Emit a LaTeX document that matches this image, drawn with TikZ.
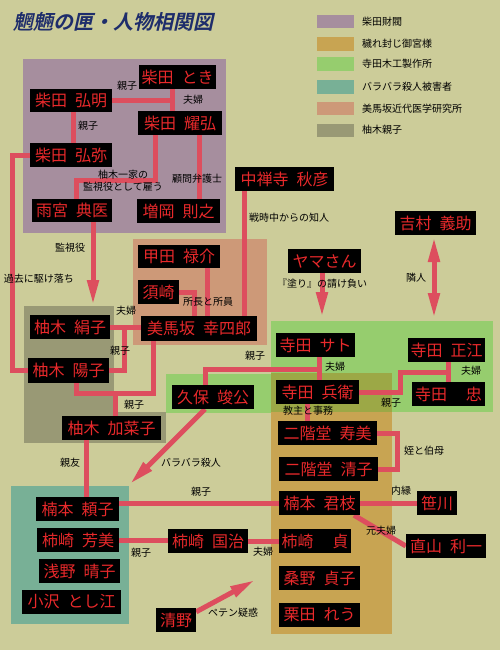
\documentclass[tikz,border=0pt]{standalone}
\usepackage{fontspec}
\setmainfont{Noto Sans CJK JP}
\newfontfamily\titlefont{Noto Sans CJK JP Bold}
\usetikzlibrary{arrows.meta}
\definecolor{bg}{HTML}{CCCC99}
\definecolor{cShibata}{HTML}{A68E9E}
\definecolor{cKegare}{HTML}{C8A452}
\definecolor{cTerada}{HTML}{96CD6E}
\definecolor{cBara}{HTML}{78B096}
\definecolor{cMimasaka}{HTML}{CD9978}
\definecolor{cYunoki}{HTML}{999975}
\definecolor{cOverlap}{HTML}{9CA846}
\definecolor{lnred}{HTML}{DD4E5E}
\definecolor{txred}{HTML}{E8292B}
\definecolor{navy}{HTML}{1E2D6B}
\newcommand\gapA{\hspace{8pt}}
\newcommand\gapB{\hspace{19pt}}
\newcommand\pnode[6]{\node[nm, minimum width={#4-#2}, minimum height={#5-#3}] (#1) at ({(#2+#4)/2},{(#3+#5)/2}) {#6};}
\pgfdeclarelayer{bgl}
\pgfdeclarelayer{lines}
\pgfsetlayers{bgl,lines,main}
\begin{document}
\begin{tikzpicture}[x=1pt,y=-1pt,
  nm/.style={fill=black, text=txred, font=\fontsize{16}{16}\selectfont, inner sep=0pt},
  lb/.style={font=\fontsize{10}{12}\selectfont, text=black, inner sep=0pt},
  lg/.style={font=\fontsize{10}{12}\selectfont, text=black, inner sep=0pt, anchor=west},
  ln/.style={draw=lnred, line width=5pt},
  arr/.style={-{Triangle[length=25pt,width=11pt]}},
  arrb/.style={{Triangle[length=25pt,width=11pt]}-{Triangle[length=25pt,width=11pt]}}]
\begin{pgfonlayer}{bgl}
\fill[bg] (0,0) rectangle (500,650);
\fill[cShibata] (23,59) rectangle (226,233);
\fill[cMimasaka] (133,239) rectangle (267,345);
\fill[cYunoki] (24,306) rectangle (114,443);
\fill[cYunoki] (114,412) rectangle (166,443);
\fill[cTerada] (271,321) rectangle (493,412);
\fill[cTerada] (166,374) rectangle (271,413);
\fill[cKegare] (271,373) rectangle (392,634);
\fill[cOverlap] (271,373) rectangle (392,412);
\fill[cBara] (11,486) rectangle (129,624);
% legend swatches
\fill[cShibata] (317,15) rectangle (354,28);
\fill[cKegare] (317,37) rectangle (354,51);
\fill[cTerada] (317,57) rectangle (354,71);
\fill[cBara] (317,80) rectangle (354,94);
\fill[cMimasaka] (317,102) rectangle (354,115);
\fill[cYunoki] (317,124) rectangle (354,137);
\end{pgfonlayer}
\useasboundingbox (0,0) rectangle (500,650);

% title
\begin{scope}[shift={(15,22)}, xslant=0.22]
\node[transform shape, anchor=west, inner sep=0pt, text=navy, font=\titlefont\fontsize{20}{20}\selectfont] (title) at (0,0) {魍魎の匣・人物相関図};
\end{scope}

% legend labels
\node[lg] (g1) at (362,22) {柴田財閥};
\node[lg] (g2) at (362,44) {穢れ封じ御宮様};
\node[lg] (g3) at (362,64) {寺田木工製作所};
\node[lg] (g4) at (362,87) {バラバラ殺人被害者};
\node[lg] (g5) at (362,109) {美馬坂近代医学研究所};
\node[lg] (g6) at (362,130) {柚木親子};

% nodes
\pnode{toki}{139}{65}{216}{89}{柴田\gapA とき}
\pnode{hiroaki}{30}{89}{112}{112}{柴田\gapA 弘明}
\pnode{youkou}{138}{111}{222}{135}{柴田\gapA 耀弘}
\pnode{hiroya}{30}{143}{112}{167}{柴田\gapA 弘弥}
\pnode{amamiya}{32}{199}{112}{222}{雨宮\gapA 典医}
\pnode{masuoka}{137}{199}{220}{223}{増岡\gapA 則之}
\pnode{chuzenji}{235}{167}{334}{191}{中禅寺\gapA 秋彦}
\pnode{yoshimura}{395}{211}{476}{235}{吉村\gapA 義助}
\pnode{yama}{288}{249}{361}{273}{ヤマさん}
\pnode{kouda}{138}{245}{220}{268}{甲田\gapA 禄介}
\pnode{suzaki}{138}{280}{179}{304}{須崎}
\pnode{mimasaka}{141}{316}{257}{341}{美馬坂\gapA 幸四郎}
\pnode{kinuko}{30}{315}{110}{339}{柚木\gapA 絹子}
\pnode{yoko}{28}{358}{109}{383}{柚木\gapA 陽子}
\pnode{kanako}{62}{416}{161}{440}{柚木\gapA 加菜子}
\pnode{kubo}{172}{385}{254}{409}{久保\gapA 竣公}
\pnode{sato}{276}{333}{355}{357}{寺田\gapA サト}
\pnode{hyoe}{276}{380}{359}{404}{寺田\gapA 兵衛}
\pnode{masae}{408}{338}{485}{362}{寺田\gapA 正江}
\pnode{tadashi}{412}{382}{485}{406}{寺田\gapB 忠}
\pnode{sumi}{278}{421}{377}{445}{二階堂\gapA 寿美}
\pnode{kiyoko}{279}{457}{378}{481}{二階堂\gapA 清子}
\pnode{kimie}{279}{491}{360}{515}{楠本\gapA 君枝}
\pnode{sasagawa}{417}{491}{457}{515}{笹川}
\pnode{naoyama}{406}{534}{486}{558}{直山\gapA 利一}
\pnode{sada}{279}{529}{351}{553}{柿崎\gapB 貞}
\pnode{kuniharu}{168}{529}{248}{553}{柿崎\gapA 国治}
\pnode{kuwano}{279}{566}{360}{590}{桑野\gapA 貞子}
\pnode{kurita}{279}{603}{360}{627}{栗田\gapA れう}
\pnode{seino}{156}{608}{196}{632}{清野}
\pnode{yoriko}{36}{497}{119}{521}{楠本\gapA 頼子}
\pnode{yoshimi}{37}{528}{119}{552}{柿崎\gapA 芳美}
\pnode{haruko}{39}{559}{120}{583}{浅野\gapA 晴子}
\pnode{toshie}{22}{590}{121}{614}{小沢\gapA とし江}

% free ends
\coordinate (kanshi) at (93,305);
\coordinate (bara) at (130,484);
\coordinate (peten) at (255,580);
\coordinate (nuri) at (322,317);
\coordinate (rinA) at (434,237);
\coordinate (rinB) at (434,318);
\coordinate (jk) at (115,393);

% connectors
\begin{pgfonlayer}{lines}
\draw[ln] (hiroaki.east) -- (172,0 |- hiroaki.east);
\draw[ln] (172,0 |- toki.south) -- (172,0 |- youkou.north);
\draw[ln] (73,0 |- hiroaki.south) -- (73,0 |- hiroya.north);
\draw[ln] (155,0 |- youkou.south) -- (155,180) -- (76,180) -- (76,0 |- amamiya.north);
\draw[ln] (199,0 |- youkou.south) -- (199,0 |- masuoka.north);
\draw[ln] (hiroya.west) -| (12,0 |- yoko.west) -- (yoko.west);
\draw[ln,arr] (93,0 |- amamiya.south) -- (kanshi);
\draw[ln] (244,0 |- chuzenji.south) -- (244,0 |- mimasaka.north);
\draw[ln] (207,0 |- kouda.south) -- (207,0 |- mimasaka.north);
\draw[ln] (suzaki.east) -| (194,0 |- mimasaka.north);
\draw[ln] (kinuko.east) -- (mimasaka.west |- kinuko.east);
\draw[ln] (124,0 |- kinuko.east) |- (yoko.east);
\draw[ln] (76,0 |- yoko.south) |- (153,393) -- (153,0 |- mimasaka.south);
\draw[ln] (jk) -- (115,0 |- kanako.north);
\draw[ln] (86,0 |- kanako.south) -- (86,0 |- yoriko.north);
\draw[ln,arr] (205,0 |- kubo.south) -- (bara);
\draw[ln] (205,0 |- kubo.north) |- (319,369);
\draw[ln] (319,0 |- sato.south) -- (319,0 |- hyoe.north);
\draw[ln] (hyoe.east) -- (400,0 |- hyoe.east) |- (448,372);
\draw[ln] (448,0 |- masae.south) -- (448,0 |- tadashi.north);
\draw[ln] (307,0 |- hyoe.south) -- (307,0 |- sumi.north);
\draw[ln] (sumi.east) -| (397,0 |- kiyoko.east) -- (kiyoko.east);
\draw[ln] (yoriko.east |- kimie.west) -- (kimie.west);
\draw[ln] (kimie.east) -- (sasagawa.west);
\draw[ln] (354,0 |- kimie.south) -- (naoyama.west);
\draw[ln] (yoshimi.east) -- (kuniharu.west |- yoshimi.east);
\draw[ln] (kuniharu.east) -- (sada.west);
\draw[ln,arr] ([yshift=-4pt]seino.north east) -- (peten);
\draw[ln,arr] (322,0 |- yama.south) -- (nuri);
\draw[ln,arrb] (rinA) -- (rinB);
\end{pgfonlayer}

% labels
\node[lb] (l1) at (127,86) {親子};
\node[lb] (l2) at (193,100) {夫婦};
\node[lb] (l3) at (88,126) {親子};
\node[lb, align=center] (l4) at (123,181) {柚木一家の\\監視役として雇う};
\node[lb] (l5) at (197,179) {顧問弁護士};
\node[lb] (l6) at (70,248) {監視役};
\node[lb] (l7) at (39,279) {過去に駆け落ち};
\node[lb] (l8) at (289,218) {戦時中からの知人};
\node[lb] (l9) at (322,284) {『塗り』の請け負い};
\node[lb] (l10) at (416,278) {隣人};
\node[lb] (l11) at (208,302) {所長と所員};
\node[lb] (l12) at (126,311) {夫婦};
\node[lb] (l13) at (120,351) {親子};
\node[lb] (l14) at (134,405) {親子};
\node[lb] (l15) at (255,356) {親子};
\node[lb] (l16) at (335,367) {夫婦};
\node[lb] (l17) at (471,371) {夫婦};
\node[lb] (l18) at (391,403) {親子};
\node[lb] (l19) at (308,411) {教主と事務};
\node[lb] (l20) at (424,451) {姪と伯母};
\node[lb] (l21) at (401,491) {内縁};
\node[lb] (l22) at (381,531) {元夫婦};
\node[lb] (l23) at (201,492) {親子};
\node[lb] (l24) at (263,552) {夫婦};
\node[lb] (l25) at (191,463) {バラバラ殺人};
\node[lb] (l26) at (70,463) {親友};
\node[lb] (l27) at (141,553) {親子};
\node[lb] (l28) at (233,613) {ペテン疑惑};
\end{tikzpicture}
\end{document}
